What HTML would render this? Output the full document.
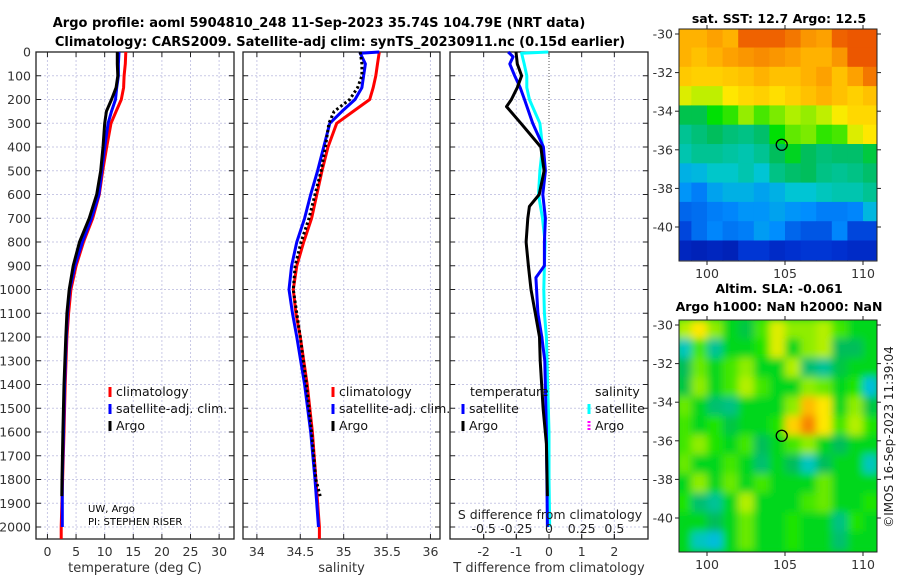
<!DOCTYPE html>
<html><head><meta charset="utf-8"><style>
body{margin:0;background:#fff}
svg{display:block;font-family:"DejaVu Sans","Liberation Sans",sans-serif}
</style></head><body>
<svg id="chart" width="900" height="580" viewBox="0 0 900 580" xmlns="http://www.w3.org/2000/svg">
<text x="319" y="27" font-size="13" font-weight="bold" text-anchor="middle">Argo profile: aoml 5904810_248 11-Sep-2023 35.74S 104.79E (NRT data)</text>
<text x="340" y="46" font-size="13" font-weight="bold" text-anchor="middle">Climatology: CARS2009. Satellite-adj clim: synTS_20230911.nc (0.15d earlier)</text>
<g id="panels"></g>
<text x="779" y="23" font-size="12.5" font-weight="bold" text-anchor="middle">sat. SST: 12.7 Argo: 12.5</text>
<text x="779" y="293" font-size="12.5" font-weight="bold" text-anchor="middle">Altim. SLA: -0.061</text>
<text x="779" y="311" font-size="12.5" font-weight="bold" text-anchor="middle">Argo h1000: NaN h2000: NaN</text>
<text transform="translate(893,437) rotate(-90)" font-size="12" text-anchor="middle" fill="#222">©IMOS 16-Sep-2023 11:39:04</text>
<text x="88" y="512" font-size="10">UW, Argo</text>
<text x="88" y="525" font-size="10">PI: STEPHEN RISER</text>
</svg>
<script>
// ---------- profile data ----------
const depths=[0,50,100,150,200,250,300,400,500,600,700,800,900,1000,1100,1200,1400,1600,1800,2000,2050];
const tempClim=[13.7,13.6,13.4,13.3,12.9,12.0,11.1,10.35,9.65,9.07,7.9,6.3,5.0,4.1,3.7,3.4,3.1,2.9,2.65,2.4,2.4];
const tempSat=[12.5,12.4,12.4,12.1,11.9,11.2,10.6,10.0,9.5,9.0,7.7,6.1,4.8,3.9,3.5,3.3,3.0,2.8,2.6,2.6];
const tempArgoDepths=[0,50,100,150,200,250,300,400,500,600,700,800,900,1000,1100,1200,1400,1600,1800,1870];
const tempArgo=[12.2,12.2,12.3,12.0,11.2,10.3,10.0,9.7,9.3,8.6,7.3,5.6,4.5,3.8,3.4,3.2,2.9,2.7,2.55,2.5];
const salClim=[35.41,35.39,35.37,35.34,35.30,35.11,34.92,34.82,34.75,34.69,34.63,34.54,34.46,34.42,34.45,34.5,34.58,34.64,34.68,34.72,34.72];
const salSatDepths=[0,5,50,100,150,200,250,300,400,500,600,700,800,900,1000,1100,1200,1400,1600,1800,2000];
const salSat=[35.41,35.19,35.25,35.23,35.21,35.13,34.98,34.84,34.77,34.70,34.62,34.55,34.46,34.40,34.37,34.41,34.46,34.55,34.62,34.67,34.71];
const salArgo=[35.19,35.21,35.21,35.16,35.07,34.89,34.83,34.79,34.74,34.67,34.60,34.51,34.44,34.42,34.46,34.5,34.57,34.63,34.68,34.73];
const dTArgoDepths=[0,50,100,150,200,230,300,400,500,600,650,700,800,900,1000,1100,1200,1300,1500,1650,1870];
const dTArgo=[-1.01,-0.97,-0.84,-0.97,-1.15,-1.3,-0.86,-0.25,-0.15,-0.30,-0.6,-0.65,-0.7,-0.63,-0.55,-0.42,-0.29,-0.27,-0.18,-0.08,-0.05];
const dTSatDepths=[0,20,50,100,150,200,300,400,500,600,700,800,900,950,1100,1200,1300,1600,2000];
const dTSat=[-1.25,-1.1,-1.2,-1.05,-0.88,-0.75,-0.5,-0.17,-0.11,-0.19,-0.11,-0.14,-0.14,-0.4,-0.34,-0.22,-0.13,-0.08,-0.05];
const dSSatDepths=[0,5,50,100,150,200,250,300,400,500,600,700,800,900,1000,1100,1200,1400,1600,1800,2000];
const dSSat=[-0.005,-0.21,-0.19,-0.17,-0.17,-0.15,-0.11,-0.07,-0.05,-0.07,-0.08,-0.05,-0.03,-0.035,-0.04,-0.035,-0.02,-0.01,0,0,0.005];
const depthTicks=[0,100,200,300,400,500,600,700,800,900,1000,1100,1200,1300,1400,1500,1600,1700,1800,1900,2000];
const tempTicks=[0,5,10,15,20,25,30];
const salTicks=[34,34.5,35,35.5,36];
const salTickLabels=["34","34.5","35","35.5","36"];
const dTTicks=[-2,-1,0,1,2];
const dSTicks=[-0.5,-0.25,0,0.25,0.5];
const dSTickLabels=["-0.5","-0.25","0","0.25","0.5"];
// ---------- map data ----------
const mapLons=[98,99,100,101,102,103,104,105,106,107,108,109,110];
const mapLats=[-29.7,-30.7,-31.7,-32.7,-33.7,-34.7,-35.7,-36.7,-37.7,-38.7,-39.7,-40.7];
const sstGrid=[
[15,15,15.2,15,15.8,15.8,15.8,15.6,15.3,15.2,15.8,15.9,15.9],
[15,14.8,15,15.2,15.3,15.4,15.3,15.2,15.0,15.0,15.3,15.9,15.9],
[14.7,14.6,14.6,14.7,14.8,15,14.8,14.8,15,15.2,14.8,15.2,15.6],
[14,13.8,13.8,14.3,14.5,14.6,14.4,14.6,14.8,15,14.8,14.6,14.8],
[12.5,12.5,13,13.2,13.6,13.3,13.5,13.7,13.6,13.8,14.2,14.5,14.5],
[12,12.2,12.4,12.2,12.1,12.3,13,13.4,13.5,13.2,13.3,14.0,14.3],
[11.8,12.0,12,11.9,11.8,12,12.4,12.8,12.4,12.2,12.3,12.3,12.6],
[11.2,11.3,11.6,11.6,11.8,11.5,12.1,12.3,12.4,12.1,12.0,12.1,12.3],
[10.8,10.5,11,11.2,11.2,11,11.2,11.5,11.5,11.7,11.8,11.8,12],
[10.2,10.3,10.5,10.6,10.8,10.8,11,10.8,10.7,10.5,10.5,10.6,11.3],
[9.8,10.3,10.6,10.4,10.5,10.9,10.7,10.2,10.0,10.0,10.6,9.8,9.8],
[9.3,9.2,9.3,9.2,9.6,9.6,9.4,9.5,9.6,9.6,9.5,9.4,9.4]];
const slaGrid=[
[0.06,0.1,0.05,0,-0.02,0.03,0.08,0.05,0.05,0.06,0.03,0,0],
[-0.08,0.03,-0.06,0,0,0.02,0.08,0,0.05,0.06,-0.03,-0.03,0],
[-0.03,0.04,0,0.03,0.05,0,0,0.06,-0.04,-0.06,-0.02,0,0],
[-0.02,0.05,0,0.03,0.06,0.03,0,0,0.05,0.04,0,0.02,-0.1],
[0.04,0,-0.04,-0.05,0,0,0,0.05,0.14,0.1,0,0.05,-0.02],
[0.03,0,0.02,-0.02,0,0,0.02,0.12,0.18,0.1,0.03,0.06,0.02],
[0.03,0.05,0.02,0,0.03,-0.03,0,0.03,0.05,0,-0.03,0,0],
[0.04,0,0,0.03,0,-0.04,0,-0.03,-0.08,-0.03,0,0,-0.08],
[0,0.05,0,0.04,0,0.03,0,0,0,0.04,0,0,0],
[0.02,-0.04,-0.06,0,0.06,0,0,0,0.03,0.04,0,0,0.02],
[0,0,-0.03,0,0.04,0,0,0.02,0,0,-0.05,0.02,0],
[0,-0.08,-0.1,0,0.04,0,0,0.02,0,0,-0.04,0,0]];
const argoLon=104.79, argoLat=-35.74;
const mapLatTicks=[-30,-32,-34,-36,-38,-40];
const mapLonTicks=[100,105,110];

const NS="http://www.w3.org/2000/svg";
const G=document.getElementById('panels');
function el(tag,attrs,parent){const e=document.createElementNS(NS,tag);for(const k in attrs)e.setAttribute(k,attrs[k]);(parent||G).appendChild(e);return e;}
function txt(s,attrs,parent){const e=el('text',attrs,parent);e.textContent=s;return e;}
const pTop=52,pBottom=539;
const yD=d=>pTop+d*0.2375;

function panel(name,x0,x1,xmin,xmax,ticks,labels,showYLabels,xlabel){
  const xs=v=>x0+(v-xmin)/(xmax-xmin)*(x1-x0);
  const g=el('g',{});
  
  
  depthTicks.forEach(d=>{
    const l=el('line',{x1:x0,x2:x1,y1:yD(d),y2:yD(d),stroke:'#c9c9e6','stroke-width':1,'stroke-dasharray':'2,2'},g);
    
    
    el('line',{x1:x0,x2:x0+5,y1:yD(d),y2:yD(d),stroke:'#222'},g);
    el('line',{x1:x1-5,x2:x1,y1:yD(d),y2:yD(d),stroke:'#222'},g);
    if(showYLabels){const t=txt(String(d),{x:x0-5,y:yD(d)+4.5,'font-size':12.5,'text-anchor':'end',fill:'#333'},g);
      
      }
  });
  ticks.forEach((v,i)=>{
    if(v!==0||name!=='diff-panel'){
      el('line',{x1:xs(v),x2:xs(v),y1:pTop,y2:pBottom,stroke:'#c9c9e6','stroke-width':1,'stroke-dasharray':'2,2'},g);
    }
    el('line',{x1:xs(v),x2:xs(v),y1:pBottom-5,y2:pBottom,stroke:'#222'},g);
    el('line',{x1:xs(v),x2:xs(v),y1:pTop,y2:pTop+5,stroke:'#222'},g);
    const t=txt(labels[i],{x:xs(v),y:556,'font-size':12.5,'text-anchor':'middle',fill:'#333'},g);
    
    
  });
  const r=el('rect',{x:x0,y:pTop,width:x1-x0,height:pBottom-pTop,fill:'none',stroke:'#222','stroke-width':1.3},g);
  
  
  const xl=txt(xlabel,{x:(x0+x1)/2,y:572,'font-size':13,'text-anchor':'middle',fill:'#333'},g);
  
  
  return xs;
}
function line(xs,ds,vs,color,name,dash,w){
  const pts=vs.map((v,i)=>xs(v).toFixed(1)+','+yD(ds[i]).toFixed(1)).join(' ');
  const p=el('polyline',{points:pts,fill:'none',stroke:color,'stroke-width':w||3,'stroke-linejoin':'round'});
  if(dash)p.setAttribute('stroke-dasharray',dash);
  
  
}
function legend(x,y,color,label,name,dash){
  const g=el('g',{});
  
  
  const l=el('line',{x1:x,x2:x,y1:y-9,y2:y+1,stroke:color,'stroke-width':3},g);
  if(dash)l.setAttribute('stroke-dasharray',dash);
  txt(label,{x:x+6,y:y,'font-size':12.5,fill:'#111'},g);
}

// Panel 1 temperature
const xT=panel('temperature-panel',36,234,-2,32.6,tempTicks,tempTicks.map(String),true,'temperature (deg C)');
line(xT,depths,tempClim,'#f00','temp-climatology-line');
line(xT,depths,tempSat,'#00f','temp-satellite-line');
line(xT,tempArgoDepths,tempArgo,'#000','temp-argo-line');
legend(110,396,'#f00','climatology','legend-climatology');
legend(110,413,'#00f','satellite-adj. clim.','legend-satellite');
legend(110,430,'#000','Argo','legend-argo');

// Panel 2 salinity
const xS=panel('salinity-panel',243,440,33.84,36.11,salTicks,salTickLabels,false,'salinity');
line(xS,depths,salClim,'#f00','sal-climatology-line');
line(xS,salSatDepths,salSat,'#00f','sal-satellite-line');
line(xS,tempArgoDepths,salArgo,'#000','sal-argo-line','2.5,2.5');
legend(333,396,'#f00','climatology','legend-sal-climatology');
legend(333,413,'#00f','satellite-adj. clim.','legend-sal-satellite');
legend(333,430,'#000','Argo','legend-sal-argo');

// Panel 3 differences
const xDT=panel('diff-panel',450,648,-3.03,3.03,dTTicks,dTTicks.map(String),false,'T difference from climatology');
const xDS=v=>xDT(v*4);
const z=el('line',{x1:xDT(0),x2:xDT(0),y1:pTop,y2:pBottom,stroke:'#555','stroke-dasharray':'1,2'});


line(xDS,dSSatDepths,dSSat,'#0ff','sal-diff-satellite-line');
line(xDT,dTSatDepths,dTSat,'#00f','temp-diff-satellite-line');
line(xDT,dTArgoDepths,dTArgo,'#000','temp-diff-argo-line');
dSTicks.forEach((v,i)=>{
  const t=txt(dSTickLabels[i],{x:xDS(v),y:533,'font-size':12.5,'text-anchor':'middle',fill:'#222'});
  
  
  el('line',{x1:xDS(v),x2:xDS(v),y1:pBottom-5,y2:pBottom,stroke:'#222'});
});
const st=txt('S difference from climatology',{x:550,y:519,'font-size':12.5,'text-anchor':'middle',fill:'#222'});


const lt=txt('temperature',{x:470,y:396,'font-size':12.5,fill:'#111'});


const ls=txt('salinity',{x:595,y:396,'font-size':12.5,fill:'#111'});


legend(463,413,'#00f','satellite','legend-temp-satellite');
legend(463,430,'#000','Argo','legend-temp-argo');
legend(589,413,'#0ff','satellite','legend-sal-sat');
legend(589,430,'#f0f','Argo','legend-sal-argo-diff','2,1.5');

// ---------- maps ----------
const cmapStops=[[0,[0,0,130]],[0.12,[0,50,210]],[0.25,[0,140,255]],[0.35,[0,200,210]],[0.45,[0,190,90]],[0.52,[0,225,0]],[0.6,[180,240,0]],[0.66,[255,235,0]],[0.76,[255,170,0]],[0.88,[230,60,0]],[1,[160,0,0]]];
function cmap(t){t=Math.max(0,Math.min(1,t));
  for(let i=1;i<cmapStops.length;i++){const [t1,c1]=cmapStops[i],[t0,c0]=cmapStops[i-1];
    if(t<=t1){const f=(t-t0)/(t1-t0);return `rgb(${c0.map((c,k)=>Math.round(c+(c1[k]-c)*f)).join(',')})`;}}
  return 'rgb(160,0,0)';}
const mx0=679,mx1=877;
const lonX=l=>707+(l-100)*15.6;
function map(name,off,grid,vmin,vmax,blur){
  const latY=lat=>34+off+(-30-lat)*19.3;
  const y0=29+off,y1=261+off;
  const cid='clip'+name;
  const cp=el('clipPath',{id:cid});
  el('rect',{x:mx0,y:y0,width:mx1-mx0,height:y1-y0},cp);
  const g=el('g',{'clip-path':`url(#${cid})`});
  
  
  if(blur){el('rect',{x:mx0,y:y0,width:mx1-mx0,height:y1-y0,fill:cmap((0-vmin)/(vmax-vmin))},g);}
  const inner=el('g',{},g);
  if(blur){const f=el('filter',{id:'f'+name,x:'-10%',y:'-10%',width:'120%',height:'120%'});el('feGaussianBlur',{stdDeviation:4},f);inner.setAttribute('filter',`url(#f${name})`);}
  grid.forEach((row,j)=>row.forEach((v,i)=>{
    const xa=lonX(mapLons[i]),ya=latY(mapLats[j]);
    const w=lonX(mapLons[i]+1)-xa,h=latY(mapLats[j]-1)-ya;
    const c=el('rect',{x:xa,y:ya,width:w+0.6,height:h+0.6,fill:cmap((v-vmin)/(vmax-vmin))},inner);
    
    
  }));
  const ring=el('circle',{cx:lonX(argoLon),cy:latY(argoLat),r:5.5,fill:'none',stroke:'#000','stroke-width':1.3});
  
  
  const fr=el('rect',{x:mx0,y:y0,width:mx1-mx0,height:y1-y0,fill:'none',stroke:'#222','stroke-width':1});
  
  
  mapLatTicks.forEach(l=>{
    el('line',{x1:mx0-4,x2:mx0,y1:latY(l),y2:latY(l),stroke:'#222'});
    el('line',{x1:mx1,x2:mx1+4,y1:latY(l),y2:latY(l),stroke:'#222'});
    const t=txt(String(l),{x:mx0-6,y:latY(l)+4.5,'font-size':12.5,'text-anchor':'end',fill:'#333'});
    
    
  });
  mapLonTicks.forEach(l=>{
    el('line',{x1:lonX(l),x2:lonX(l),y1:y1,y2:y1+4,stroke:'#222'});
    el('line',{x1:lonX(l),x2:lonX(l),y1:y0-4,y2:y0,stroke:'#222'});
    const t=txt(String(l),{x:lonX(l),y:y1+17,'font-size':12.5,'text-anchor':'middle',fill:'#333'});
    
    
  });
}
map('sst-map',0,sstGrid,8.5,17.2,false);
map('sla-map',291,slaGrid,-0.3,0.3,true);
</script>
</body></html>
